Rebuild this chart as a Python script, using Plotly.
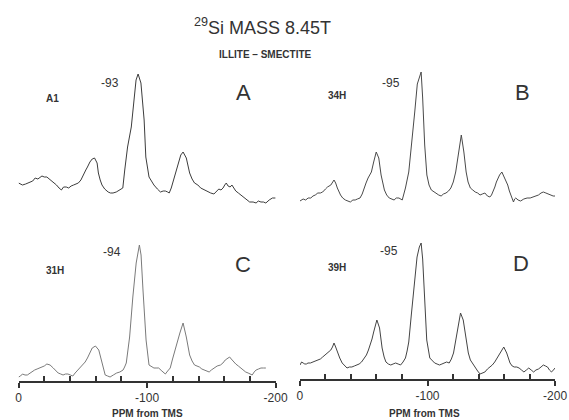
import plotly.graph_objects as go

# 29Si MAS NMR spectra of illite-smectite samples (chemical shift in ppm from TMS,
# intensity in arbitrary units)

A_PPM = [0, -3, -5.5, -7.5, -9.1, -11, -12.9, -15, -18.2, -20, -22, -24, -25.8, -27.5,
         -29.5, -31.5, -33.3, -35, -37.1, -39, -40.9, -42.8, -44.7, -46.5, -48.5, -50.8,
         -52.3, -53.6, -55.5, -57.3, -59.1, -61.1, -62.1, -63.5, -64.9, -67, -69.7, -71.5,
         -73.5, -76, -78.8, -81.1, -82.6, -84.8, -87.7, -89.4, -91.4, -93, -95.2, -97.7,
         -99, -101.5, -103.5, -105.3, -108, -110.4, -112.5, -114.2, -116, -117.2, -118.8,
         -120.5, -122.3, -124.2, -126.2, -128, -130.5, -133.1, -135, -136.9, -139.5, -141.7,
         -144.5, -147, -149.5, -152, -154, -155.8, -157.5, -159.1, -160.4, -161.6, -163,
         -164.6, -166, -167.2, -169, -171, -172.8, -174.8, -177.5, -179.8, -182.5, -184.8,
         -186.5, -188.6, -190.5, -192.4, -195, -197.5, -200]
A_INT = [27, 25, 26, 27, 28, 29, 32, 31, 34, 33, 33, 31, 29, 27,
         25, 22, 20, 23, 23, 22, 24, 25, 26, 27, 30, 37,
         40, 43, 48, 51, 52, 47, 37, 30, 25, 21, 18, 17,
         17, 18, 20, 22, 40, 63, 83, 107, 130, 136, 127, 90,
         53, 33, 28, 25, 21, 18, 19, 19, 18, 17, 22,
         30, 39, 47, 55, 58, 52, 37, 31, 27, 25, 22,
         20, 18, 17, 16, 19, 21, 20, 22, 25, 27, 24,
         23, 25, 23, 19, 17, 15, 13, 10, 8, 8, 7,
         9, 8, 8, 7, 10, 12, 12]

B_PPM = [0, -2.5, -4.5, -6.4, -8.5, -10.2, -12, -14, -16, -17.8, -20, -21.6, -24.2, -25.5,
         -26.7, -28, -29.3, -31.8, -33.5, -35.6, -37.5, -39.5, -41.5, -43.3, -45, -47.1,
         -48.8, -50.2, -51.8, -53.4, -56, -57.8, -59.8, -61.8, -63.6, -66.2, -68, -70, -72,
         -73.8, -75.5, -77.6, -80.2, -82.7, -85.3, -87.8, -90, -92, -95, -96.2, -97.8,
         -99.5, -101.2, -103, -105, -106.9, -108.8, -110.7, -112.5, -114.5, -116.5, -118.3,
         -120.2, -122.1, -124.7, -126.5, -128.5, -130.3, -131.8, -133.6, -135.5, -137.4,
         -139.3, -141.2, -143, -145, -147, -148.9, -150.2, -151.4, -152.8, -154, -156.5,
         -158.3, -160.3, -162.9, -164.2, -165.4, -167.4, -168.3, -169.2, -171, -173, -175.5,
         -178.1, -180.5, -183.2, -185, -187, -189, -190.8, -192.8, -194.7, -196.5, -198.5,
         -200]
B_INT = [9, 11, 10, 12, 12, 14, 15, 17, 17, 18, 21, 23, 25, 28,
         30, 27, 22, 15, 12, 10, 9, 8, 10, 10, 11, 12,
         16, 22, 27, 32, 38, 48, 58, 52, 35, 20, 15, 12, 11,
         10, 12, 12, 10, 22, 38, 68, 98, 126, 138, 112, 65,
         35, 25, 20, 18, 17, 15, 14, 16, 17, 19, 22,
         28, 38, 62, 75, 58, 38, 28, 22, 20, 18,
         17, 15, 16, 17, 14, 13, 15, 18, 23, 28, 35,
         38, 33, 25, 19, 15, 8, 11, 12, 10, 9, 11,
         12, 12, 13, 14, 15, 17, 18, 17, 16, 15, 14,
         14]

C_PPM = [0, -1.5, -3, -5, -6.8, -8.8, -10.6, -12.5, -14.4, -16.3, -18.2, -20, -22, -24.5,
         -27, -29, -30.8, -32.8, -34.6, -36.5, -38.4, -40.3, -42.2, -44, -46, -48, -49.8,
         -51.8, -53.6, -55.5, -57.3, -59.8, -62.4, -63.6, -64.9, -66.2, -67.4, -69.3, -71.2,
         -73.7, -76.3, -78.8, -81.3, -82.5, -83.8, -85, -86.4, -88.9, -91.5, -94, -95.3,
         -96.8, -97.8, -99.2, -101.5, -103.5, -105.3, -107, -109, -111.5, -114.2, -116, -118,
         -119.8, -121.7, -123.6, -125.5, -128, -130.5, -133.1, -135, -136.9, -138.8, -140.7,
         -142.6, -144.5, -146.4, -148.3, -150, -152, -154.5, -157.1, -159, -160.8, -162.5,
         -164.2, -165.5, -167.2, -169, -171, -172.8, -174.8, -176.7, -178.6, -180.2, -181.8,
         -183.3, -184.8, -186.7, -188.6, -190.5, -192.4]
C_INT = [4, 5, 7, 6, 6, 8, 9, 11, 12, 13, 14, 15, 17, 16,
         13, 10, 8, 7, 6, 7, 7, 6, 5, 8, 11, 13, 16,
         19, 23, 28, 33, 35, 31, 25, 18, 11, 6, 5, 4,
         6, 8, 9, 11, 14, 18, 30, 44, 84, 118, 136, 126,
         91, 66, 41, 16, 14, 13, 13, 13, 10, 7, 10, 13,
         22, 31, 40, 48, 58, 44, 26, 20, 16, 15, 14,
         12, 11, 10, 9, 11, 13, 15, 16, 18, 21, 23,
         24, 22, 19, 17, 15, 13, 11, 9, 8, 7, 6,
         9, 11, 12, 13, 13, 13]

D_PPM = [0, -1.3, -2.5, -3.8, -5, -6.3, -8.2, -10.2, -12, -14, -16, -17.8, -19.7, -21.6,
         -23, -24.2, -25.5, -26.7, -28, -29.3, -31.2, -33.1, -35, -36.9, -38.8, -40.7, -42.6,
         -44.5, -46.4, -48.3, -50.2, -52.1, -53.7, -55.2, -56.5, -57.8, -60.3, -62.4, -64.4,
         -66, -67.4, -69.3, -71.2, -73, -75, -77, -78.9, -80.8, -82.7, -84, -85.3, -87.3,
         -89.8, -91.8, -93.6, -95, -96.2, -97.8, -99.4, -101.8, -103.7, -105.6, -107.5,
         -109.4, -111.3, -113.2, -115, -117, -118.7, -120.4, -122, -123.4, -125.9, -128,
         -130.5, -132, -133.6, -135.5, -137.4, -139.3, -141.2, -143, -145, -147, -148.9,
         -150.8, -152.7, -154.6, -156.5, -159.8, -162.1, -164.7, -166.4, -168, -170, -171.8,
         -173.7, -175.6, -177.5, -179.4, -181.3, -183.2, -185, -187, -189, -190.8, -192.5,
         -194.1, -195.6, -197.2, -198.7, -200]
D_INT = [14, 17, 16, 15, 15, 16, 16, 17, 18, 19, 20, 22, 24, 26,
         27, 29, 32, 36, 32, 27, 21, 16, 13, 11, 12, 12, 13,
         14, 15, 17, 20, 24, 29, 34, 40, 47, 59, 51, 31,
         22, 17, 15, 14, 15, 16, 15, 14, 17, 21, 28, 37, 64,
         94, 122, 132, 136, 120, 76, 39, 21, 18, 16, 15,
         14, 15, 16, 17, 16, 20, 26, 37, 49, 66, 59,
         36, 26, 19, 15, 12, 8, 5, 6, 7, 10, 12,
         14, 17, 21, 26, 32, 26, 16, 13, 12, 12, 11,
         9, 7, 9, 11, 9, 7, 9, 10, 12, 14, 13,
         12, 9, 7, 9, 11]

PANEL_LETTERS = ["A", "B", "C", "D"]
SAMPLE_NAMES = ["A1", "34H", "31H", "39H"]
PEAK_LABELS = ["-93", "-95", "-94", "-95"]
TICK_VALS = [0, -100, -200]
TICK_TEXT = ["0", "-100", "-200"]
MINOR_TICKS = [-20, -40, -60, -80, -120, -140, -160, -180]

W, H = 569, 420
FONT = "Liberation Sans, Arial, sans-serif"
INK = "#333333"


def fx(px):
    return px / W


def fy(py):
    return 1 - py / H


fig = go.Figure()

series = [(A_PPM, A_INT, "#3c3c3c"), (B_PPM, B_INT, "#4a4a4a"),
          (C_PPM, C_INT, "#7a7a7a"), (D_PPM, D_INT, "#444444")]
for i, (ppm, inten, color) in enumerate(series):
    n = "" if i == 0 else str(i + 1)
    fig.add_trace(go.Scatter(x=ppm, y=inten, mode="lines", xaxis="x" + n, yaxis="y" + n,
                             line=dict(color=color, width=1), hoverinfo="skip",
                             showlegend=False))

left_dom = [fx(16), fx(280)]
right_dom = [fx(305), fx(567)]

hidden = dict(visible=False, showgrid=False, zeroline=False)
fig.update_layout(
    width=W, height=H, margin=dict(l=0, r=0, t=0, b=0),
    paper_bgcolor="white", plot_bgcolor="rgba(0,0,0,0)",
    font=dict(family=FONT, color=INK),
    xaxis=dict(domain=left_dom, range=[0, -200], anchor="y", **hidden),
    yaxis=dict(domain=[fy(210), fy(60)], range=[0, 150], anchor="x", **hidden),
    xaxis2=dict(domain=right_dom, range=[0, -200], anchor="y2", **hidden),
    yaxis2=dict(domain=[fy(210), fy(60)], range=[0, 150], anchor="x2", **hidden),
    yaxis3=dict(domain=[fy(381), fy(231)], range=[0, 150], anchor="x3", **hidden),
    yaxis4=dict(domain=[fy(379), fy(229)], range=[0, 150], anchor="x4", **hidden),
)

for name, dom, anchor in [("xaxis3", left_dom, "y3"), ("xaxis4", right_dom, "y4")]:
    fig.layout[name] = dict(
        domain=dom, range=[0, -200], anchor=anchor,
        showline=True, linecolor=INK, linewidth=1.6,
        showgrid=False, zeroline=False,
        tickmode="array", tickvals=TICK_VALS, ticktext=TICK_TEXT,
        ticks="outside", ticklen=5, tickwidth=1.6, tickcolor=INK,
        tickfont=dict(size=12, color=INK, family=FONT),
        minor=dict(tickmode="array", tickvals=MINOR_TICKS, ticks="inside",
                   ticklen=5, tickwidth=1.5, tickcolor=INK, showgrid=False),
    )

annotations = [
    dict(x=fx(267), y=fy(27), text="<sup>29</sup>Si MASS 8.45T",
         font=dict(size=18, color=INK)),
    dict(x=fx(270), y=fy(55), text="<b>ILLITE – SMECTITE</b>",
         font=dict(size=10, color=INK)),
    dict(x=fx(148), y=fy(413), text="<b>PPM from TMS</b>", font=dict(size=10, color=INK)),
    dict(x=fx(433), y=fy(413), text="<b>PPM from TMS</b>", font=dict(size=10, color=INK)),
]

letter_pos = [(247, 92), (534, 92), (247, 264), (532, 263)]
name_pos = [(51, 98), (343, 96), (53, 270), (343, 267)]
peak_pos = [(110, 83), (399, 83), (112, 252), (396, 251)]
for k in range(4):
    annotations.append(dict(x=fx(letter_pos[k][0]), y=fy(letter_pos[k][1]),
                            text=PANEL_LETTERS[k], font=dict(size=22, color=INK)))
    annotations.append(dict(x=fx(name_pos[k][0]), y=fy(name_pos[k][1]),
                            text="<b>" + SAMPLE_NAMES[k] + "</b>",
                            font=dict(size=10, color=INK)))
    annotations.append(dict(x=fx(peak_pos[k][0]), y=fy(peak_pos[k][1]),
                            text=PEAK_LABELS[k], font=dict(size=12, color=INK)))

for a in annotations:
    a.update(xref="paper", yref="paper", showarrow=False, xanchor="center",
             yanchor="middle")
fig.update_layout(annotations=annotations)

fig.write_html("out.html")
